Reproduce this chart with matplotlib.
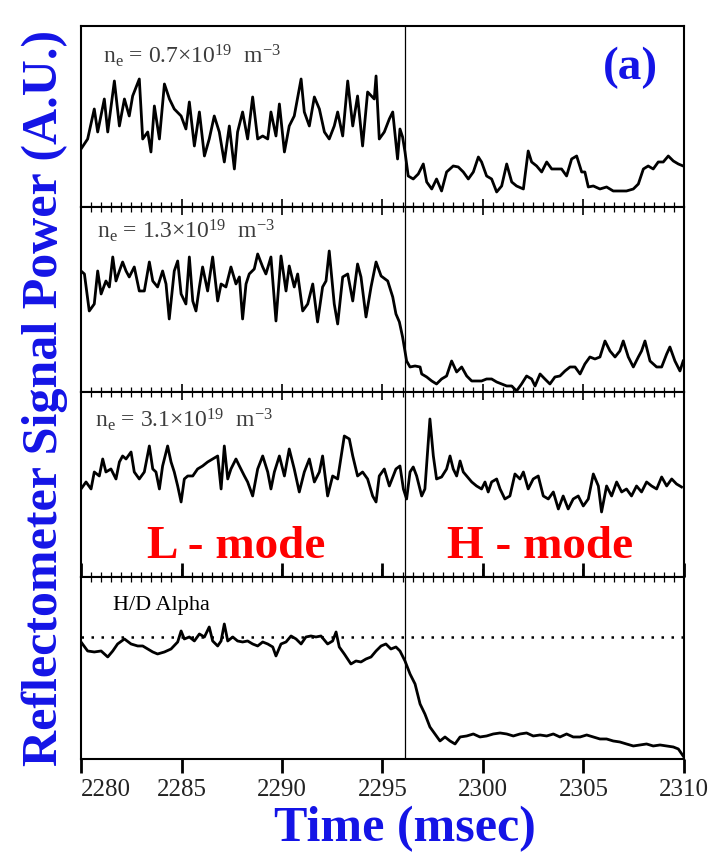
import matplotlib.pyplot as plt
from matplotlib.ticker import MultipleLocator

plt.rcParams['font.family'] = ['Liberation Serif', 'DejaVu Serif']
plt.rcParams['mathtext.default'] = 'regular'

# panel heights (px in the original) used as y-ranges, values in the same units
heights = [181, 185, 185, 182]
t_switch = 2296.1
halpha_ref = 122

t1 = [2280.0, 2280.33, 2280.66, 2280.83, 2281.16, 2281.33, 2281.66, 2281.91, 2282.16, 2282.4,
      2282.57, 2282.9, 2283.07, 2283.32, 2283.48, 2283.65, 2283.9, 2284.15, 2284.4, 2284.64,
      2284.98, 2285.22, 2285.39, 2285.64, 2285.89, 2286.14, 2286.38, 2286.63, 2286.88, 2287.13,
      2287.38, 2287.63, 2287.79, 2288.04, 2288.29, 2288.54, 2288.79, 2289.04, 2289.29, 2289.45,
      2289.7, 2289.87, 2290.12, 2290.36, 2290.61, 2290.95, 2291.11, 2291.36, 2291.61, 2291.86,
      2292.11, 2292.35, 2292.6, 2292.77, 2293.02, 2293.27, 2293.52, 2293.76, 2294.01, 2294.26,
      2294.59, 2294.68, 2294.84, 2295.09, 2295.34, 2295.51, 2295.75,
      2295.87, 2296.0, 2296.12, 2296.28, 2296.53, 2296.78, 2297.03, 2297.2, 2297.45, 2297.69,
      2297.94, 2298.19, 2298.52, 2298.77, 2299.02, 2299.27, 2299.52, 2299.77, 2299.93, 2300.18,
      2300.43, 2300.68, 2300.93, 2301.18, 2301.43, 2301.67, 2302.01, 2302.25, 2302.42, 2302.67,
      2302.92, 2303.17, 2303.42, 2303.66, 2303.91, 2304.16, 2304.41, 2304.66, 2304.91, 2305.07,
      2305.24, 2305.49, 2305.82, 2306.15, 2306.48, 2306.81, 2307.14, 2307.48, 2307.73, 2307.98,
      2308.22, 2308.47, 2308.72, 2308.97, 2309.22, 2309.47, 2309.72, 2309.96]
p1 = [58, 68, 98, 75, 108, 75, 126, 81, 108, 91,
      111, 128, 68, 75, 55, 101, 68, 123, 108, 98,
      91, 78, 105, 61, 95, 51, 68, 91, 75, 45,
      81, 38, 75, 95, 68, 110, 68, 71, 68, 95,
      71, 103, 55, 81, 91, 128, 95, 81, 110, 98,
      75, 68, 81, 95, 71, 126, 81, 111, 61, 115,
      108, 131, 68, 75, 88, 95, 48,
      78, 70, 55, 31, 28, 33, 43, 25, 18, 28,
      16, 35, 41, 40, 35, 28, 35, 50, 45, 31,
      28, 15, 21, 43, 25, 21, 18, 56, 45, 41,
      35, 45, 38, 38, 38, 31, 48, 51, 35, 35,
      20, 21, 18, 20, 16, 16, 16, 18, 23, 38,
      41, 38, 45, 45, 51, 46, 43, 41]

t2 = [2280.0, 2280.17, 2280.41, 2280.66, 2280.83, 2281.0, 2281.24, 2281.41, 2281.58, 2281.74,
      2281.91, 2282.07, 2282.24, 2282.4, 2282.65, 2282.9, 2283.15, 2283.4, 2283.57, 2283.81,
      2284.06, 2284.23, 2284.39, 2284.64, 2284.81, 2284.98, 2285.22, 2285.39, 2285.56, 2285.72,
      2285.89, 2286.05, 2286.3, 2286.55, 2286.8, 2286.97, 2287.21, 2287.46, 2287.71, 2287.88,
      2288.04, 2288.21, 2288.37, 2288.62, 2288.79, 2289.04, 2289.2, 2289.45, 2289.7, 2289.95,
      2290.2, 2290.36, 2290.61, 2290.78, 2291.03, 2291.28, 2291.53, 2291.77, 2292.02, 2292.19,
      2292.35, 2292.6, 2292.77, 2293.02, 2293.27, 2293.52, 2293.76, 2293.93, 2294.18, 2294.43,
      2294.68, 2294.93, 2295.26, 2295.51, 2295.67, 2295.84,
      2296.0, 2296.2, 2296.37, 2296.62, 2296.87, 2296.95, 2297.2, 2297.45, 2297.69, 2297.94,
      2298.19, 2298.44, 2298.69, 2298.94, 2299.19, 2299.44, 2299.68, 2299.93, 2300.18, 2300.43,
      2300.68, 2300.93, 2301.18, 2301.43, 2301.67, 2301.92, 2302.17, 2302.42, 2302.59, 2302.84,
      2303.08, 2303.33, 2303.58, 2303.83, 2304.08, 2304.33, 2304.58, 2304.83, 2305.07, 2305.32,
      2305.57, 2305.82, 2306.07, 2306.32, 2306.57, 2306.81, 2306.98, 2307.23, 2307.48, 2307.73,
      2307.89, 2308.06, 2308.31, 2308.64, 2308.89, 2309.14, 2309.3, 2309.55, 2309.8, 2309.96]
p2 = [121, 118, 81, 88, 121, 98, 111, 105, 135, 111,
      121, 130, 121, 115, 125, 101, 101, 130, 111, 105,
      121, 108, 73, 121, 131, 98, 88, 135, 91, 81,
      105, 125, 101, 135, 91, 108, 105, 125, 108, 115,
      73, 108, 118, 123, 138, 125, 118, 135, 71, 136,
      101, 126, 105, 118, 81, 88, 108, 70, 105, 111,
      141, 88, 68, 115, 118, 91, 128, 115, 75, 105,
      130, 116, 111, 95, 78, 70,
      55, 31, 25, 26, 25, 18, 15, 11, 8, 13,
      16, 31, 20, 25, 16, 11, 11, 11, 13, 13,
      10, 8, 6, 6, 1, 8, 16, 13, 6, 18,
      13, 8, 15, 16, 21, 25, 25, 18, 28, 35,
      33, 35, 51, 41, 35, 41, 51, 35, 25, 35,
      41, 51, 31, 25, 25, 38, 45, 31, 21, 31]

t3 = [2280.0, 2280.25, 2280.5, 2280.66, 2280.91, 2281.08, 2281.24, 2281.49, 2281.74, 2281.91,
      2282.07, 2282.24, 2282.49, 2282.65, 2282.9, 2283.15, 2283.4, 2283.57, 2283.73, 2283.9,
      2284.06, 2284.31, 2284.48, 2284.64, 2284.81, 2284.98, 2285.14, 2285.31, 2285.56, 2285.8,
      2286.05, 2286.3, 2286.55, 2286.8, 2286.97, 2287.13, 2287.3, 2287.46, 2287.71, 2287.88,
      2288.13, 2288.29, 2288.54, 2288.79, 2289.04, 2289.29, 2289.45, 2289.62, 2289.87, 2290.12,
      2290.36, 2290.61, 2290.86, 2291.11, 2291.36, 2291.61, 2291.86, 2292.02, 2292.27, 2292.52,
      2292.77, 2293.1, 2293.35, 2293.52, 2293.76, 2294.01, 2294.26, 2294.51, 2294.68, 2294.84,
      2295.09, 2295.34, 2295.67,
      2295.87, 2296.04, 2296.2, 2296.37, 2296.53, 2296.7, 2296.95, 2297.11, 2297.36, 2297.53,
      2297.69, 2297.94, 2298.19, 2298.36, 2298.52, 2298.69, 2298.86, 2299.02, 2299.19, 2299.44,
      2299.68, 2299.93, 2300.1, 2300.26, 2300.43, 2300.68, 2300.85, 2301.09, 2301.34, 2301.59,
      2301.84, 2302.01, 2302.25, 2302.5, 2302.75, 2303.0, 2303.25, 2303.5, 2303.75, 2303.99,
      2304.24, 2304.49, 2304.74, 2304.99, 2305.24, 2305.49, 2305.74, 2305.9, 2306.15, 2306.4,
      2306.65, 2306.9, 2307.14, 2307.39, 2307.64, 2307.89, 2308.14, 2308.39, 2308.64, 2308.89,
      2309.14, 2309.39, 2309.63, 2309.88]
p3 = [88, 95, 88, 105, 101, 118, 105, 108, 98, 115,
      121, 118, 125, 105, 98, 105, 131, 108, 105, 88,
      111, 131, 115, 105, 91, 75, 98, 101, 101, 108,
      111, 115, 118, 121, 88, 131, 98, 108, 118, 111,
      101, 95, 81, 108, 121, 105, 88, 105, 121, 101,
      128, 108, 85, 105, 118, 95, 105, 121, 81, 101,
      98, 141, 138, 121, 101, 105, 98, 81, 75, 101,
      108, 91, 108,
      111, 88, 78, 105, 110, 101, 81, 88, 158, 121,
      98, 100, 108, 121, 108, 101, 116, 105, 101, 95,
      91, 88, 95, 85, 95, 98, 88, 78, 81, 103,
      98, 105, 88, 98, 101, 81, 78, 85, 68, 81,
      68, 78, 81, 71, 78, 103, 91, 65, 91, 81,
      95, 85, 88, 81, 91, 85, 95, 91, 88, 100,
      91, 98, 93, 90]

t4 = [2280.0, 2280.33, 2280.66, 2281.0, 2281.33, 2281.58, 2281.82, 2282.16, 2282.49, 2282.82,
      2283.07, 2283.32, 2283.57, 2283.81, 2284.15, 2284.48, 2284.81, 2284.98, 2285.14, 2285.39,
      2285.64, 2285.89, 2286.14, 2286.38, 2286.55, 2286.8, 2286.97, 2287.13, 2287.3, 2287.55,
      2287.79, 2288.04, 2288.29, 2288.54, 2288.79, 2289.04, 2289.29, 2289.54, 2289.7, 2289.95,
      2290.2, 2290.45, 2290.7, 2290.95, 2291.19, 2291.44, 2291.69, 2291.94, 2292.27, 2292.52,
      2292.69, 2292.85, 2293.1, 2293.43, 2293.68, 2293.93, 2294.18, 2294.43, 2294.68, 2294.93,
      2295.17, 2295.42, 2295.67,
      2295.87, 2296.12, 2296.37, 2296.62, 2296.87, 2297.11, 2297.36, 2297.61, 2297.86, 2298.11,
      2298.36, 2298.61, 2298.86, 2299.19, 2299.52, 2299.85, 2300.18, 2300.51, 2300.85, 2301.18,
      2301.51, 2301.84, 2302.17, 2302.5, 2302.84, 2303.17, 2303.5, 2303.83, 2304.16, 2304.49,
      2304.83, 2305.16, 2305.49, 2305.82, 2306.15, 2306.48, 2306.81, 2307.14, 2307.48, 2307.81,
      2308.14, 2308.47, 2308.81, 2309.14, 2309.47, 2309.72, 2309.96]
p4 = [117, 108, 107, 108, 102, 108, 115, 120, 115, 113,
      113, 110, 107, 105, 107, 110, 117, 128, 120, 122,
      118, 125, 122, 132, 118, 113, 118, 135, 118, 122,
      118, 117, 118, 115, 113, 117, 115, 112, 103, 115,
      117, 123, 120, 115, 122, 123, 122, 123, 115, 118,
      127, 112, 105, 95, 98, 97, 100, 102, 108, 113,
      115, 110, 112,
      108, 98, 85, 75, 55, 45, 32, 25, 18, 22,
      18, 15, 22, 23, 25, 22, 23, 25, 26, 25,
      23, 25, 26, 23, 24, 23, 25, 22, 25, 22,
      22, 24, 22, 20, 20, 18, 17, 15, 13, 14,
      15, 13, 14, 13, 12, 10, 3]

times = [t1, t2, t3, t4]
signals = [p1, p2, p3, p4]
labels = ['n$_e$ = 0.7×10$^{19}$  m$^{-3}$',
          'n$_e$ = 1.3×10$^{19}$  m$^{-3}$',
          'n$_e$ = 3.1×10$^{19}$  m$^{-3}$',
          'H/D Alpha']
label_pos = [(0.036, 0.80), (0.027, 0.838), (0.023, 0.816), (0.053, 0.824)]
xticks = [2280, 2285, 2290, 2295, 2300, 2305, 2310]

blue = '#1414e6'

fig = plt.figure(figsize=(7.15, 8.54), dpi=100)
gs = fig.add_gridspec(4, 1, height_ratios=heights, left=0.1133, right=0.9566,
                      top=0.9684, bottom=0.1101, hspace=0)
axes = [fig.add_subplot(gs[i]) for i in range(4)]

for i, ax in enumerate(axes):
    ax.plot(times[i], signals[i], color='black', lw=2.0)
    ax.axvline(t_switch, color='black', lw=0.9)
    ax.set_xlim(2280, 2310)
    ax.set_ylim(0, heights[i])
    for s in ax.spines.values():
        s.set_linewidth(1.5)
    ax.xaxis.set_major_locator(MultipleLocator(5))
    ax.xaxis.set_minor_locator(MultipleLocator(0.5))
    ax.tick_params(axis='y', left=False, labelleft=False)
    color = '#3c3c3c' if i < 3 else 'black'
    ax.text(label_pos[i][0], label_pos[i][1], labels[i], transform=ax.transAxes,
            fontsize=17 if i < 3 else 16, color=color, va='baseline', ha='left')
    if i < 3:
        ax.tick_params(axis='x', which='both', direction='in', bottom=True,
                       top=(i > 0), labelbottom=False)
        ax.tick_params(axis='x', which='major', length=6, width=1.2)
        ax.tick_params(axis='x', which='minor', length=3.5, width=0.9)
    else:
        ax.tick_params(axis='x', which='minor', bottom=False, top=True,
                       direction='in', length=3.5, width=0.9)
        ax.tick_params(axis='x', which='major', bottom=True, top=True,
                       direction='out', length=10, width=2, pad=4,
                       labelsize=18, labelcolor='#222222')
        ax.set_xticks(xticks)
        ax.set_xticklabels([str(v) for v in xticks])
        ax.get_xticklabels()[0].set_ha('left')
        ax.axhline(halpha_ref, color='black', lw=1.8, linestyle=(0, (1, 3)))

axes[0].text(0.912, 0.773, '(a)', transform=axes[0].transAxes, fontsize=34,
             fontweight='bold', color=blue, ha='center', va='center')
axes[2].text(0.109, 0.108, 'L - mode', transform=axes[2].transAxes, fontsize=34,
             fontweight='bold', color='red', ha='left', va='baseline')
axes[2].text(0.607, 0.108, 'H - mode', transform=axes[2].transAxes, fontsize=34,
             fontweight='bold', color='red', ha='left', va='baseline')

fig.text(405 / 715, 1 - 829 / 854, 'Time (msec)', fontsize=36, fontweight='bold',
         color=blue, ha='center', va='center')
fig.text(45 / 715, 1 - 398 / 854, 'Reflectometer Signal Power (A.U.)', fontsize=36,
         fontweight='bold', color=blue, rotation=90, ha='center', va='center')

fig.savefig('out.png', dpi=100)
